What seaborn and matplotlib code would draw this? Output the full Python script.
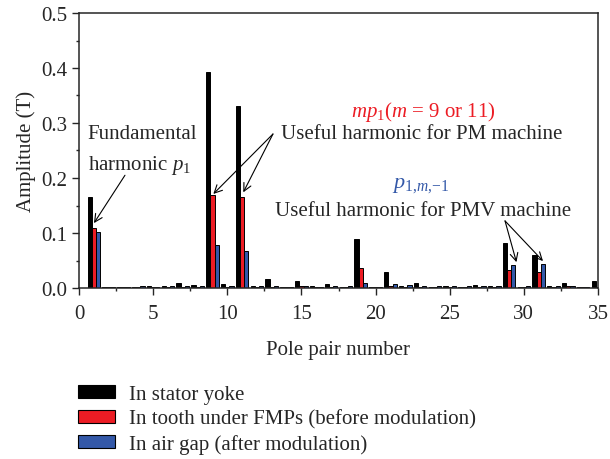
import numpy as np
import pandas as pd
import matplotlib
matplotlib.use("Agg")
import matplotlib.pyplot as plt
from matplotlib.patches import Patch
from matplotlib.ticker import MultipleLocator, FormatStrFormatter
import seaborn as sns

# Harmonic spectrum of the flux density (pole pair numbers 1..35)
pole_pairs = list(range(1, 36))
stator_yoke = [0.165, 0.001, 0.001, 0.002, 0.004, 0.003, 0.010, 0.006, 0.393, 0.007,
               0.331, 0.003, 0.017, 0.002, 0.013, 0.003, 0.008, 0.002, 0.090, 0.002,
               0.030, 0.003, 0.010, 0.002, 0.004, 0.002, 0.005, 0.003, 0.082, 0.002,
               0.060, 0.003, 0.009, 0.002, 0.012]
tooth_fmp = [0.110, 0.001, 0.001, 0.001, 0.001, 0.002, 0.002, 0.002, 0.169, 0.002,
             0.166, 0.002, 0.002, 0.002, 0.003, 0.002, 0.002, 0.002, 0.036, 0.002,
             0.003, 0.002, 0.002, 0.002, 0.002, 0.002, 0.002, 0.002, 0.033, 0.002,
             0.030, 0.002, 0.003, 0.002, 0.002]
air_gap = [0.101, 0.001, 0.002, 0.003, 0.002, 0.003, 0.004, 0.003, 0.079, 0.003,
           0.067, 0.003, 0.003, 0.002, 0.003, 0.002, 0.003, 0.003, 0.010, 0.002,
           0.008, 0.005, 0.003, 0.004, 0.003, 0.003, 0.003, 0.003, 0.042, 0.003,
           0.044, 0.003, 0.003, 0.002, 0.003]
series_names = ["In stator yoke",
                "In tooth under FMPs (before modulation)",
                "In air gap (after modulation)"]
colors = ["#000000", "#EC1C24", "#3358A8"]

df = pd.concat([
    pd.DataFrame({"order": pole_pairs, "amp": vals, "where": name})
    for name, vals in zip(series_names, [stator_yoke, tooth_fmp, air_gap])
], ignore_index=True)

sns.set_style("ticks")
plt.rcParams["font.family"] = ["Liberation Serif", "DejaVu Serif"]
plt.rcParams["mathtext.fontset"] = "custom"
plt.rcParams["mathtext.rm"] = "Liberation Serif"
plt.rcParams["mathtext.it"] = "Liberation Serif:italic"
plt.rcParams["font.size"] = 15

fig = plt.figure(figsize=(6.1, 4.6), dpi=100)
ax = fig.add_axes([79 / 610, 1 - 289 / 460, (598 - 79) / 610, (289 - 14) / 460])

sns.barplot(data=df, x="order", y="amp", hue="where", hue_order=series_names,
            palette=colors, native_scale=True, width=0.85, dodge=True,
            edgecolor="black", linewidth=0.7, saturation=1, legend=False, ax=ax)

ax.set_xlim(0, 35)
ax.set_ylim(0, 0.5)
ax.xaxis.set_major_locator(MultipleLocator(5))
ax.xaxis.set_minor_locator(MultipleLocator(2.5))
ax.yaxis.set_major_locator(MultipleLocator(0.1))
ax.yaxis.set_minor_locator(MultipleLocator(0.05))
ax.yaxis.set_major_formatter(FormatStrFormatter("%.1f"))
ax.tick_params(which="major", direction="out", length=5, width=1, labelsize=15)
ax.tick_params(axis="x", which="major", pad=6.5)
ax.tick_params(which="minor", direction="out", length=2.5, width=1)
for s in ax.spines.values():
    s.set_visible(True)
    s.set_linewidth(1.1)
ax.set_xlabel("Pole pair number", fontsize=15, labelpad=12)
ax.set_ylabel("Amplitude (T)", fontsize=15)

arrow = dict(arrowstyle="->", lw=0.8, color="black", shrinkA=0, shrinkB=0,
             mutation_scale=14)

# Fundamental harmonic
ax.text(4.25, 0.280, "Fundamental", ha="center", va="center", fontsize=15)
ax.text(4.1, 0.224, "harmonic $p_1$", ha="center", va="center", fontsize=15)
ax.annotate("", xy=(1.01, 0.118), xytext=(3.1, 0.205), arrowprops=arrow)

# Useful harmonic for PM machine
ax.text(23.2, 0.322, "$mp_1$($m$ = 9 or 11)", ha="center", va="center",
        fontsize=15, color=colors[1])
ax.text(23.1, 0.280, "Useful harmonic for PM machine", ha="center", va="center",
        fontsize=15)
for tip in [(9.06, 0.171), (11.08, 0.174)]:
    ax.annotate("", xy=tip, xytext=(13.08, 0.280), arrowprops=arrow)

# Useful harmonic for PMV machine
ax.text(23.0, 0.189, "$p_{1{,}m{,}{-}1}$", ha="center", va="center",
        fontsize=16, color=colors[2])
ax.text(23.2, 0.140, "Useful harmonic for PMV machine", ha="center", va="center",
        fontsize=15)
for tip in [(29.5, 0.047), (31.29, 0.049)]:
    ax.annotate("", xy=tip, xytext=(28.73, 0.122), arrowprops=arrow)

handles = [Patch(facecolor=c, edgecolor="black", linewidth=0.8) for c in colors]
fig.legend(handles, series_names, loc="upper left",
           bbox_to_anchor=(74 / 610, 1 - 382 / 460), frameon=False,
           fontsize=15, handlelength=1.75, handleheight=0.6,
           handletextpad=0.7, labelspacing=0.25, borderaxespad=0,
           borderpad=0.2)

fig.savefig("out.png", dpi=100)
